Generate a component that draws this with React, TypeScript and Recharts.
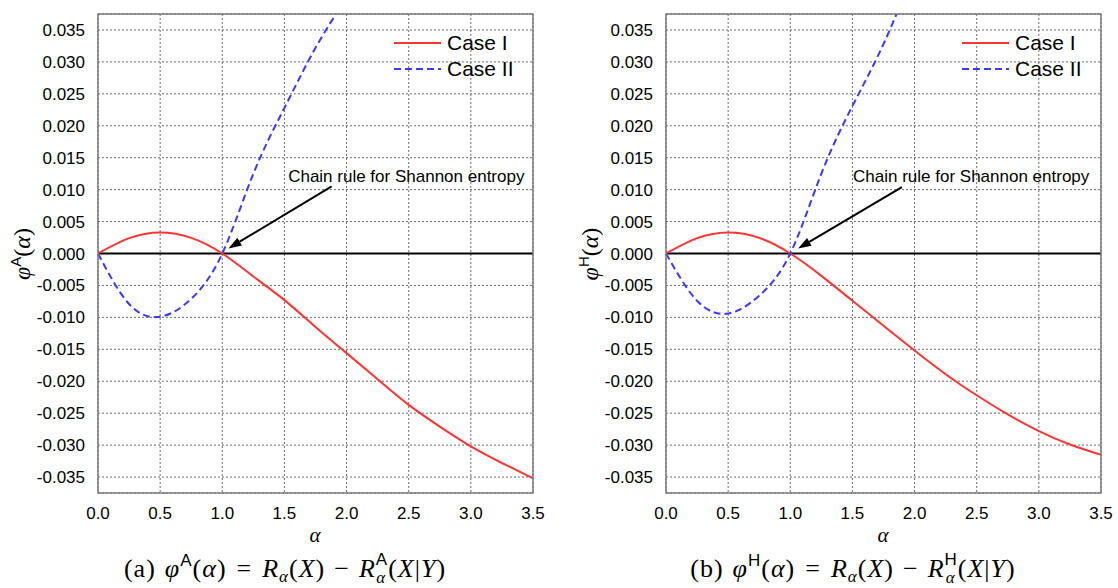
import React from "react";
import {
  LineChart, Line, XAxis, YAxis, CartesianGrid, ReferenceLine, ReferenceDot, Legend,
} from "recharts";

const SANS = '"Liberation Sans", Arial, Helvetica, sans-serif';
const SERIF = '"Liberation Serif", "Times New Roman", serif';

// alpha grid for each series
const alphaCaseI = [0, 0.25, 0.5, 0.75, 1.0, 1.25, 1.5, 1.75, 2.0, 2.25, 2.5, 2.75, 3.0, 3.25, 3.5];
const alphaCaseII = [0, 0.25, 0.5, 0.75, 1.0, 1.25, 1.5, 1.75, 2.0];

// (a) Arimoto
const caseIA = [0, 0.0024, 0.0033, 0.00245, 0, -0.0036, -0.0073, -0.0115, -0.0156, -0.0197, -0.0237, -0.0271, -0.0302, -0.0328, -0.0352];
const caseIIA = [0, -0.0079, -0.0099, -0.0071, 0, 0.0125, 0.0228, 0.0322, 0.040];

// (b) Hayashi
const caseIH = [0, 0.0024, 0.0033, 0.00245, 0, -0.0035, -0.0074, -0.0113, -0.0152, -0.0189, -0.0222, -0.0252, -0.0278, -0.0299, -0.0315];
const caseIIH = [0, -0.0074, -0.0094, -0.0066, 0, 0.0125, 0.0231, 0.0328, 0.0445];

const xTicks = [0, 0.5, 1.0, 1.5, 2.0, 2.5, 3.0, 3.5];
const yTicks = [-0.035, -0.03, -0.025, -0.02, -0.015, -0.01, -0.005, 0, 0.005, 0.01, 0.015, 0.02, 0.025, 0.03, 0.035];
const xDomain = [0, 3.5];
const yDomain = [-0.0375, 0.0375];

// annotation: [text anchor, arrow start, arrow tip] in (alpha, value)
const noteA = [[1.53, 0.0121], [1.88, 0.0105], [1.05, 0.0008]];
const noteH = [[1.505, 0.0121], [1.898, 0.0104], [1.063, 0.0008]];

// chart box
const W = 560, H = 588;
const M = { top: 14, right: 27, bottom: 65, left: 0 };
const Y_W = 98, X_H = 30;

const toPts = (xs: number[], ys: number[]) => xs.map((a, i) => ({ a, v: ys[i] }));

const Arrow = (p: any) => {
  const { x1, y1, x2, y2 } = p;
  const ang = Math.atan2(y2 - y1, x2 - x1);
  const L = 13, HW = 4.5;
  const bx = x2 - L * Math.cos(ang);
  const by = y2 - L * Math.sin(ang);
  const nx = -Math.sin(ang) * HW;
  const ny = Math.cos(ang) * HW;
  return (
    <g>
      <line x1={x1} y1={y1} x2={bx} y2={by} stroke="#000" strokeWidth={2} />
      <polygon points={`${x2},${y2} ${bx + nx},${by + ny} ${bx - nx},${by - ny}`} fill="#000" />
    </g>
  );
};

const LegendBox = ({ payload }: any) => (
  <div style={{ fontFamily: SANS, fontSize: 21, color: "#000" }}>
    {(payload || []).map((e: any) => (
      <div key={e.value} style={{ display: "flex", alignItems: "center", height: 26 }}>
        <svg width={48} height={26}>
          <line x1={0} y1={13} x2={47} y2={13} stroke={e.color} strokeWidth={2}
            strokeDasharray={e.payload?.strokeDasharray} />
        </svg>
        <span style={{ marginLeft: 5, lineHeight: "26px" }}>{e.value}</span>
      </div>
    ))}
  </div>
);

interface PanelProps {
  left: number;
  caseI: { a: number; v: number }[];
  caseII: { a: number; v: number }[];
  sup: string;
  tag: string;
  note: number[][];
}

function Panel({ left, caseI, caseII, sup, tag, note }: PanelProps) {
  const supStyle = { fontFamily: SANS, fontStyle: "normal" as const };
  const plotW = W - M.left - Y_W - M.right;
  const plotH = H - M.top - M.bottom - X_H;
  return (
    <div style={{ position: "absolute", left, top: 0, width: W, height: H }}>
      <LineChart width={W} height={H} margin={M}>
        <CartesianGrid stroke="#6e6e6e" strokeDasharray="2 2" />
        <XAxis type="number" dataKey="a" domain={xDomain} ticks={xTicks} interval={0} allowDataOverflow
          tickFormatter={(v: number) => v.toFixed(1)} axisLine={false} tickLine={false} tickMargin={8}
          height={X_H} tick={{ fill: "#000", fontSize: 17, fontFamily: SANS }} />
        <YAxis type="number" domain={yDomain} ticks={yTicks} interval={0} allowDataOverflow
          tickFormatter={(v: number) => v.toFixed(3)} axisLine={false} tickLine={false} tickMargin={7}
          width={Y_W} tick={{ fill: "#000", fontSize: 17, fontFamily: SANS }} />
        <ReferenceLine y={0} stroke="#000" strokeWidth={2} />
        <Line data={caseI} dataKey="v" name="Case I" type="natural" stroke="#ff3535" strokeWidth={2}
          dot={false} activeDot={false} isAnimationActive={false} />
        <Line data={caseII} dataKey="v" name="Case II" type="natural" stroke="#3a3aff" strokeWidth={2}
          strokeDasharray="7 4" dot={false} activeDot={false} isAnimationActive={false} />
        <ReferenceLine segment={[{ x: note[1][0], y: note[1][1] }, { x: note[2][0], y: note[2][1] }]}
          shape={Arrow} ifOverflow="visible" />
        <ReferenceDot x={note[0][0]} y={note[0][1]} r={0} ifOverflow="visible"
          shape={(p: any) => (
            <text x={p.cx} y={p.cy} dominantBaseline="central" fontFamily={SANS} fontSize={17} fill="#000">
              Chain rule for Shannon entropy
            </text>
          )} />
        <Legend layout="horizontal" verticalAlign="middle" align="center" content={<LegendBox />}
          wrapperStyle={{ left: 394, top: 30, width: "auto" }} />
      </LineChart>
      <svg width={W} height={H} style={{ position: "absolute", left: 0, top: 0, pointerEvents: "none" }}>
        {/* plot frame */}
        <rect x={M.left + Y_W} y={M.top} width={plotW} height={plotH} fill="none" stroke="#7a7a7a" strokeWidth={1.5} />
        <text transform="rotate(-90 30 254)" x={30} y={254} textAnchor="middle" fontFamily={SERIF} fontSize={24} fill="#000">
          <tspan fontStyle="italic">φ</tspan>
          <tspan {...supStyle} fontSize={15} dy={-9}>{sup}</tspan>
          <tspan dy={9}>(</tspan>
          <tspan fontStyle="italic">α</tspan>
          <tspan>)</tspan>
        </text>
        <text x={315} y={542} textAnchor="middle" fontFamily={SERIF} fontStyle="italic" fontSize={21} fill="#000">α</text>
        <text x={285} y={577} textAnchor="middle" fontFamily={SERIF} fontSize={26} letterSpacing={1} fill="#000">
          <tspan>{`(${tag})`}</tspan>
          <tspan fontStyle="italic" dx={9}>φ</tspan>
          <tspan {...supStyle} fontSize={17} dy={-11}>{sup}</tspan>
          <tspan dy={11}>(</tspan>
          <tspan fontStyle="italic">α</tspan>
          <tspan>)</tspan>
          <tspan dx={10}>=</tspan>
          <tspan fontStyle="italic" dx={10}>R</tspan>
          <tspan fontStyle="italic" fontSize={17} dy={5}>α</tspan>
          <tspan dy={-5}>(</tspan>
          <tspan fontStyle="italic">X</tspan>
          <tspan>)</tspan>
          <tspan dx={9}>−</tspan>
          <tspan fontStyle="italic" dx={9}>R</tspan>
          <tspan {...supStyle} fontSize={17} dy={-12}>{sup}</tspan>
          <tspan fontStyle="italic" fontSize={17} dx={-12} dy={18}>α</tspan>
          <tspan dx={2} dy={-6}>(</tspan>
          <tspan fontStyle="italic">X</tspan>
          <tspan>|</tspan>
          <tspan fontStyle="italic">Y</tspan>
          <tspan>)</tspan>
        </text>
      </svg>
    </div>
  );
}

export default function App() {
  return (
    <div style={{ position: "absolute", left: 0, top: 0, width: 1118, height: 588, background: "#fff" }}>
      <Panel left={0} caseI={toPts(alphaCaseI, caseIA)} caseII={toPts(alphaCaseII, caseIIA)} sup="A" tag="a" note={noteA} />
      <Panel left={568} caseI={toPts(alphaCaseI, caseIH)} caseII={toPts(alphaCaseII, caseIIH)} sup="H" tag="b" note={noteH} />
    </div>
  );
}
